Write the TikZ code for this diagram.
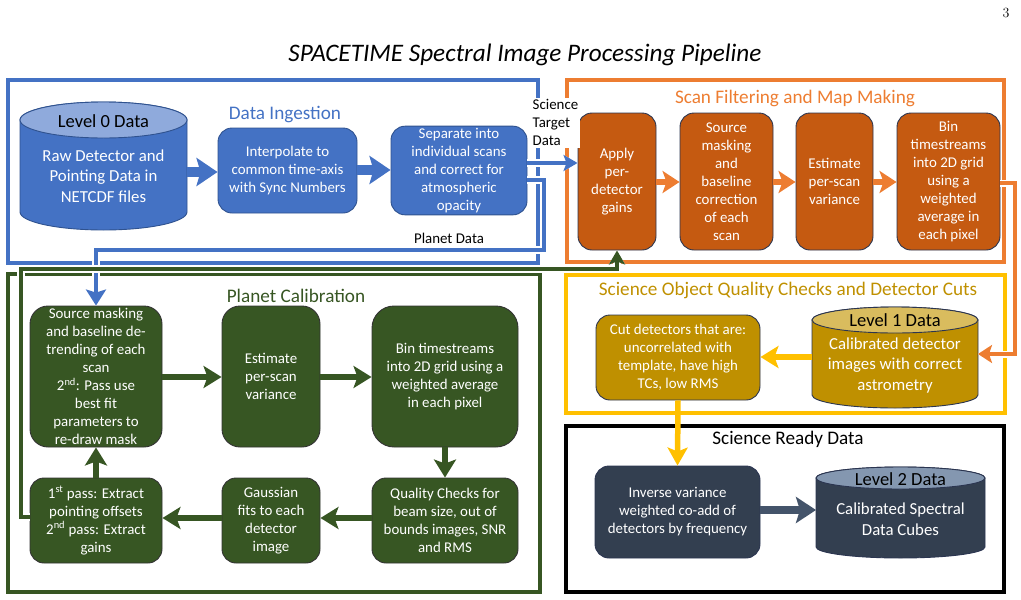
\documentclass[tikz,border=0pt]{standalone}
\usepackage{fontspec}
\setsansfont{Carlito}
\usetikzlibrary{arrows.meta}
\definecolor{bluef}{HTML}{4472C4}
\definecolor{bluetop}{HTML}{8FAADC}
\definecolor{blueedge}{HTML}{2F528F}
\definecolor{orangef}{HTML}{C55A11}
\definecolor{orangel}{HTML}{ED7D31}
\definecolor{greenf}{HTML}{375623}
\definecolor{yellowl}{HTML}{FFC000}
\definecolor{goldf}{HTML}{BF9000}
\definecolor{goldtop}{HTML}{D9BC5E}
\definecolor{slatef}{HTML}{333F50}
\definecolor{slatea}{HTML}{44546A}
\definecolor{slatetop}{HTML}{8497B0}
\definecolor{darkedge}{HTML}{2B3550}
\newcommand{\bxfont}{\sffamily\fontsize{14.9pt}{18pt}\selectfont}
\newcommand{\cyfont}{\sffamily\fontsize{16.8pt}{20.5pt}\selectfont}
\newcommand{\lvfont}{\sffamily\fontsize{18.5pt}{22pt}\selectfont}
\newcommand{\hdfont}{\sffamily\fontsize{19.2pt}{22pt}\selectfont}
\begin{document}
\begin{tikzpicture}[x=1pt,y=-1pt,
  box/.style={draw=darkedge, line width=0.9pt, rounded corners=14pt, align=center, text=white, font=\bxfont, inner sep=2pt},
  region/.style={inner sep=0pt, outer sep=0pt},
  frame/.style={line width=3.6pt},
  halo/.style={preaction={draw=white, line width=#1}},
  cytext/.style={align=center, text=white, font=\cyfont},
  lvtext/.style={text=black, font=\lvfont},
  hd/.style={font=\hdfont},
  lbl/.style={font=\bxfont, text=black}
]
\useasboundingbox (0,0) rectangle (1021,600);

% title and page number
\node[font=\sffamily\itshape\fontsize{25.2pt}{29pt}\selectfont] (title) at (525,55) {SPACETIME Spectral Image Processing Pipeline};
\node[font=\rmfamily\fontsize{14pt}{16pt}\selectfont] (pg) at (1006,13) {3};

% frames
\draw[frame, draw=bluef] (8,80) rectangle (538,263);
\draw[frame, draw=orangel] (567,80) rectangle (1004,262);
\draw[frame, draw=greenf] (8,274) rectangle (540,592);
\draw[frame, draw=yellowl] (566,275) rectangle (1005,413);
\draw[frame, draw=black, line width=4pt] (566,426) rectangle (1004,592);

% section labels
\node[hd, text=bluef] (hing) at (285,115) {Data Ingestion};
\node[hd, text=orangel] (hscan) at (795,98) {Scan Filtering and Map Making};
\node[hd, text=greenf] (hplan) at (296,296) {Planet Calibration};
\node[hd, text=goldf] (hsci) at (788,290) {Science Object Quality Checks and Detector Cuts};
\node[hd, text=black] (hrdy) at (788,439) {Science Ready Data};

% cylinder regions (named, for connectors)
\node[region, minimum width=167pt, minimum height=128pt] (L0) at (103.5,166) {};
\node[region, minimum width=166pt, minimum height=101pt] (L1) at (895,357.5) {};
\node[region, minimum width=169pt, minimum height=91pt] (L2) at (900.5,512.5) {};

% Level 0 cylinder
\filldraw[fill=bluef, draw=blueedge, line width=0.9pt]
  (20,120) -- (20,212) arc[start angle=180,end angle=360,x radius=83.5pt,y radius=18pt]
  -- (187,120) arc[start angle=0,end angle=180,x radius=83.5pt,y radius=18pt] -- cycle;
\filldraw[fill=bluetop, draw=blueedge, line width=0.9pt] (103.5,120) ellipse[x radius=83.5pt, y radius=18pt];
\node[lvtext] (L0t) at (103.5,121) {Level 0 Data};
\node[cytext] (L0b) at (103.5,176) {Raw Detector and\\Pointing Data in\\NETCDF files};

% Level 1 cylinder
\filldraw[fill=goldf, draw=darkedge, line width=0.9pt]
  (812,320) -- (812,395) arc[start angle=180,end angle=360,x radius=83pt,y radius=13pt]
  -- (978,320) arc[start angle=0,end angle=180,x radius=83pt,y radius=13pt] -- cycle;
\filldraw[fill=goldtop, draw=darkedge, line width=0.9pt] (895,320) ellipse[x radius=83pt, y radius=13pt];
\node[lvtext] (L1t) at (895,320) {Level 1 Data};
\node[cytext] (L1b) at (895,365.5) {Calibrated detector\\images with correct\\astrometry};

% Level 2 cylinder
\filldraw[fill=slatef, draw=darkedge, line width=0.9pt]
  (816,478) -- (816,547) arc[start angle=180,end angle=360,x radius=84.5pt,y radius=11pt]
  -- (985,478) arc[start angle=0,end angle=180,x radius=84.5pt,y radius=11pt] -- cycle;
\filldraw[fill=slatetop, draw=darkedge, line width=0.9pt] (900.5,478) ellipse[x radius=84.5pt, y radius=11pt];
\node[lvtext] (L2t) at (900.5,479) {Level 2 Data};
\node[cytext] (L2b) at (900.5,519) {Calibrated Spectral\\Data Cubes};

% boxes: data ingestion
\node[box, fill=bluef, draw=blueedge, minimum width=139pt, minimum height=85pt] (interp) at (287.5,170.5) {Interpolate to\\common time-axis\\with Sync Numbers};
\node[box, fill=bluef, draw=blueedge, minimum width=136pt, minimum height=85pt] (separ) at (459,170.5) {Separate into\\individual scans\\and correct for\\atmospheric\\opacity};

% boxes: scan filtering
\node[box, fill=orangef, minimum width=78pt, minimum height=137pt] (apply) at (617,181.5) {Apply\\per-\\detector\\gains};
\node[box, fill=orangef, minimum width=93pt, minimum height=137pt] (smask) at (726.5,181.5) {Source\\masking\\and\\baseline\\correction\\of each\\scan};
\node[box, fill=orangef, minimum width=77pt, minimum height=137pt] (estim) at (834.5,181.5) {Estimate\\per-scan\\variance};
\node[box, fill=orangef, minimum width=103pt, minimum height=137pt] (bin) at (948.5,181.5) {Bin\\timestreams\\into 2D grid\\using a\\weighted\\average in\\each pixel};

% boxes: planet calibration
\node[box, fill=greenf, draw=black!80, rounded corners=18pt, minimum width=132pt, minimum height=141pt] (gA) at (96,376.5) {Source masking\\and baseline de-\\trending of each\\scan\\2\textsuperscript{nd}: Pass use\\best fit\\parameters to\\re-draw mask};
\node[box, fill=greenf, draw=black!80, rounded corners=18pt, minimum width=98pt, minimum height=141pt] (gB) at (271,376.5) {Estimate\\per-scan\\variance};
\node[box, fill=greenf, draw=black!80, rounded corners=22pt, minimum width=146pt, minimum height=141pt] (gC) at (445,376.5) {Bin timestreams\\into 2D grid using a\\weighted average\\in each pixel};
\node[box, fill=greenf, draw=black!80, minimum width=146pt, minimum height=85pt] (gD) at (445,520.5) {Quality Checks for\\beam size, out of\\bounds images, SNR\\and RMS};
\node[box, fill=greenf, draw=black!80, minimum width=98pt, minimum height=85pt] (gE) at (271,520.5) {Gaussian\\fits to each\\detector\\image};
\node[box, fill=greenf, draw=black!80, minimum width=132pt, minimum height=85pt] (gF) at (96,520.5) {1\textsuperscript{st} pass: Extract\\pointing offsets\\2\textsuperscript{nd} pass: Extract\\gains};

% boxes: science object / ready
\node[box, fill=goldf, minimum width=164pt, minimum height=85pt] (cut) at (678,357.5) {Cut detectors that are:\\uncorrelated with\\template, have high\\TCs, low RMS};
\node[box, fill=slatef, minimum width=165pt, minimum height=92pt] (inv) at (677.5,512) {Inverse variance\\weighted co-add of\\detectors by frequency};

% connectors: blue
\draw[bluef, line width=10pt, -{Stealth[length=21pt,width=28pt,inset=4pt]}] (L0.east |- 0,172) -- (interp.west |- 0,172);
\draw[bluef, line width=10pt, -{Stealth[length=21pt,width=28pt,inset=4pt]}] (interp.east |- 0,170) -- (separ.west |- 0,170);
\draw[bluef, line width=4.5pt, halo=7.5pt, -{Stealth[length=14pt,width=16pt,inset=3pt]}] (separ.east |- 0,163) -- (apply.west |- 0,163);
\draw[bluef, line width=4.5pt, halo=7.5pt, -{Stealth[length=16pt,width=20pt,inset=3pt]}] (separ.east |- 0,180) -- (544,180) -- (544,250) -- (96,250) -- (gA.north);

% connectors: green feedback
\draw[greenf, line width=4.5pt, halo=7.5pt, -{Stealth[length=14pt,width=16pt,inset=3pt]}] (gF.west |- 0,517) -- (21,517) -- (21,269) -- (617,269) -- (apply.south);

% connectors: orange
\draw[orangel, line width=6pt, -{Stealth[length=17pt,width=22pt,inset=4pt]}] (apply.east |- 0,182) -- (smask.west |- 0,182);
\draw[orangel, line width=6pt, -{Stealth[length=17pt,width=22pt,inset=4pt]}] (smask.east |- 0,182) -- (estim.west |- 0,182);
\draw[orangel, line width=6pt, -{Stealth[length=17pt,width=22pt,inset=4pt]}] (estim.east |- 0,182) -- (bin.west |- 0,182);
\draw[orangel, line width=4pt, halo=7pt, -{Stealth[length=14pt,width=18pt,inset=3pt]}] (bin.east |- 0,183) -- (1015,183) -- (1015,354) -- (L1.east |- 0,354);

% connectors: green
\draw[greenf, line width=6.5pt, -{Stealth[length=18pt,width=22pt,inset=4pt]}] (gA.east |- 0,377) -- (gB.west |- 0,377);
\draw[greenf, line width=6.5pt, -{Stealth[length=18pt,width=22pt,inset=4pt]}] (gB.east |- 0,377) -- (gC.west |- 0,377);
\draw[greenf, line width=6.5pt, -{Stealth[length=18pt,width=22pt,inset=4pt]}] (gC.south) -- (gD.north);
\draw[greenf, line width=6.5pt, -{Stealth[length=18pt,width=22pt,inset=4pt]}] (gD.west |- 0,518) -- (gE.east |- 0,518);
\draw[greenf, line width=6.5pt, -{Stealth[length=18pt,width=22pt,inset=4pt]}] (gE.west |- 0,518) -- (gF.east |- 0,518);
\draw[greenf, line width=6.5pt, -{Stealth[length=18pt,width=22pt,inset=4pt]}] (gF.north) -- (gA.south);

% connectors: yellow and slate
\draw[yellowl, line width=6.5pt, -{Stealth[length=18pt,width=22pt,inset=4pt]}] (L1.west |- 0,357) -- (cut.east |- 0,357);
\draw[yellowl, line width=5.5pt, -{Stealth[length=18pt,width=20pt,inset=4pt]}] (cut.south) -- (inv.north);
\draw[slatea, line width=8pt, -{Stealth[length=20pt,width=26pt,inset=4pt]}] (inv.east |- 0,510) -- (L2.west |- 0,510);

% connector labels
\node[lbl, fill=white, align=left, inner sep=1.5pt, anchor=north west] (stdata) at (531,98) {Science\\Target\\Data};
\node[lbl] (pdata) at (449,238) {Planet Data};
\end{tikzpicture}
\end{document}
